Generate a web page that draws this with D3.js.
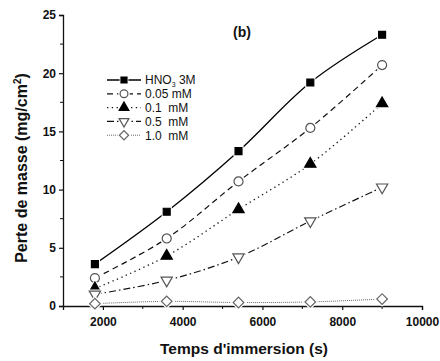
<!DOCTYPE html>
<html>
<head>
<meta charset="utf-8">
<script src="https://cdn.jsdelivr.net/npm/d3@7"></script>
<style>
  body { margin: 0; background: #fff; }
  text { font-family: "Liberation Sans", Arial, sans-serif; fill: #111; }
</style>
</head>
<body>
<div id="chart"></div>
<script>
// data
const times = [1800, 3600, 5400, 7200, 9000];
const hno3 = [3.6, 8.1, 13.3, 19.2, 23.3];
const c005 = [2.4, 5.8, 10.7, 15.3, 20.7];
const c01 = [1.5, 4.3, 8.3, 12.2, 17.4];
const c05 = [1.0, 2.2, 4.2, 7.3, 10.2];
const c10 = [0.2, 0.4, 0.3, 0.35, 0.6];
const seriesNames = ["HNO3 3M", "0.05 mM", "0.1  mM", "0.5  mM", "1.0  mM"];
const xTicks = [2000, 4000, 6000, 8000, 10000];
const yTicks = [0, 5, 10, 15, 20, 25];

const w = 440, h = 361;
const plotL = 63, plotR = 422, plotT = 15, plotB = 306;

let x = d3.scaleLinear().domain([1000, 10000]).range([plotL, plotR]);
let y = d3.scaleLinear().domain([0, 25]).range([plotB, plotT]);

let svg = d3.select("#chart").append("svg")
  .attr("width", w).attr("height", h);

// line styles + markers for each series
const styles = [
  { vals: hno3, dash: null, sym: d3.symbolSquare, size: 48, fill: "#000", stroke: "#000", lw: 1.3, lc: "#000" },
  { vals: c005, dash: "6,4", sym: d3.symbolCircle, size: 64, fill: "#fff", stroke: "#555", lw: 1.2, lc: "#111" },
  { vals: c01, dash: "1.3,3.5", sym: d3.symbolTriangle, size: 55, fill: "#000", stroke: "#000", lw: 1.3, lc: "#111" },
  { vals: c05, dash: "7,3,1.5,3", sym: d3.symbolTriangle, size: 55, fill: "#fff", stroke: "#555", lw: 1.2, lc: "#111", rot: 180 },
  { vals: c10, dash: "1,1", sym: d3.symbolSquare, size: 56, fill: "#fff", stroke: "#666", lw: 1, lc: "#666", rot: 45 }
];

// axes
let xAxis = d3.axisBottom(x).tickValues(xTicks).tickSize(4).tickFormat(d3.format("d"));
let yAxis = d3.axisLeft(y).tickValues(yTicks).tickSize(4);

let gx = svg.append("g").attr("transform", "translate(0," + plotB + ")").call(xAxis);
let gy = svg.append("g").attr("transform", "translate(" + plotL + ",0)").call(yAxis);

// minor ticks
gx.selectAll(".minor").data(d3.range(3000, 10000, 2000)).enter()
  .append("line").attr("x1", d => x(d)).attr("x2", d => x(d))
  .attr("y1", 0).attr("y2", 3).attr("stroke", "#111");
gy.selectAll(".minor").data(d3.range(2.5, 25, 5)).enter()
  .append("line").attr("y1", d => y(d)).attr("y2", d => y(d))
  .attr("x1", 0).attr("x2", -3).attr("stroke", "#111");

[gx, gy].forEach(g => {
  g.select(".domain").attr("stroke", "#111").attr("stroke-width", 1.3);
  g.selectAll(".tick line").attr("stroke", "#111").attr("stroke-width", 1.2);
  g.selectAll("text").style("font-size", "12px").style("font-weight", "bold")
    .style("font-family", "'Liberation Sans', Arial, sans-serif").attr("fill", "#111");
});
gx.selectAll(".tick text").attr("dy", "1.05em");
gy.selectAll(".tick text").attr("x", -7);

let line = d3.line().curve(d3.curveCatmullRom.alpha(0.5))
  .x((d, i) => x(times[i])).y(d => y(d));

styles.forEach(s => {
  svg.append("path").datum(s.vals)
    .attr("d", line).attr("fill", "none")
    .attr("stroke", s.lc).attr("stroke-width", s.lw)
    .attr("stroke-dasharray", s.dash);
});

function marker(g, s, px, py) {
  let sym = d3.symbol().type(s.sym).size(s.size);
  let rot = s.rot ? " rotate(" + s.rot + ")" : "";
  g.append("path").attr("d", d3.symbol().type(s.sym).size(s.size * 2.2)())
    .attr("transform", "translate(" + px + "," + py + ")" + rot)
    .attr("fill", "#fff");
  g.append("path").attr("d", sym())
    .attr("transform", "translate(" + px + "," + py + ")" + rot)
    .attr("fill", s.fill).attr("stroke", s.stroke).attr("stroke-width", 1.2);
}

styles.forEach(s => {
  let g = svg.append("g");
  s.vals.forEach((v, i) => marker(g, s, x(times[i]), y(v)));
});

// legend
let leg = svg.append("g");
styles.forEach((s, i) => {
  let ly = 80 + i * 13.8;
  leg.append("line").attr("x1", 107).attr("x2", 141).attr("y1", ly).attr("y2", ly)
    .attr("stroke", s.lc).attr("stroke-width", s.lw).attr("stroke-dasharray", s.dash);
  let ms = Object.assign({}, s, { size: s.size * 0.75 });
  marker(leg, ms, 124, ly);
  let t = leg.append("text").attr("x", 145).attr("y", ly + 4.3)
    .style("font-size", "12px");
  if (i === 0) {
    t.append("tspan").text("HNO");
    t.append("tspan").text("3").attr("dy", 3).style("font-size", "7px");
    t.append("tspan").text(" 3M").attr("dy", -3);
  } else {
    t.text(seriesNames[i]).style("white-space", "pre");
  }
});

// panel label
svg.append("text").attr("x", 242).attr("y", 37).attr("text-anchor", "middle")
  .style("font-size", "14px").style("font-weight", "bold").text("(b)");

// axis titles
svg.append("text").attr("x", 244).attr("y", 354).attr("text-anchor", "middle")
  .style("font-size", "15.5px").style("font-weight", "bold").text("Temps d'immersion (s)");

let yl = svg.append("text").attr("transform", "translate(27,168) rotate(-90)")
  .attr("text-anchor", "middle").style("font-size", "16px").style("font-weight", "bold");
yl.append("tspan").text("Perte de masse (mg/cm");
yl.append("tspan").text("2").attr("dy", -6).style("font-size", "10px");
yl.append("tspan").text(")").attr("dy", 6);
</script>
</body>
</html>
